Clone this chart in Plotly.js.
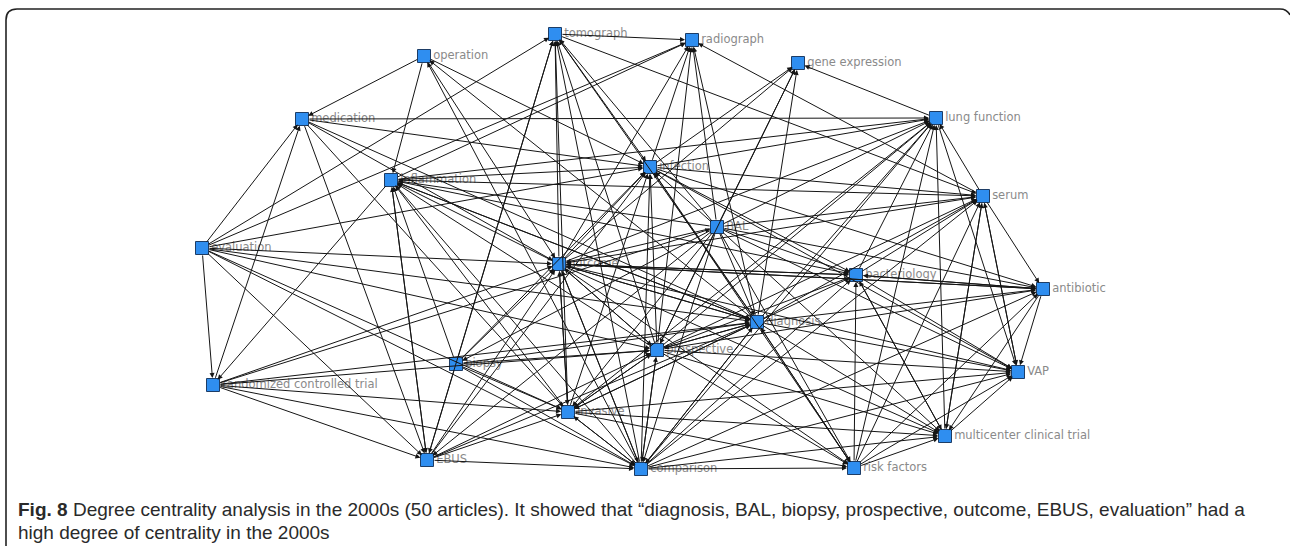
<!DOCTYPE html>
<html>
<head>
<meta charset="utf-8">
<script src="https://cdn.plot.ly/plotly-3.0.1.min.js"></script>
<style>html,body{margin:0;padding:0;background:#fff;}#chart{width:1290px;height:546px;}</style>
</head>
<body>
<div id="chart"></div>
<script>
// Node names and their layout positions (network layout coordinates)
const nodeNames = ["tomograph","radiograph","operation","gene expression","medication","lung function","infection","inflammation","serum","BAL","evaluation","outcome","bacteriology","antibiotic","diagnosis","prospective","biopsy","VAP","randomized controlled trial","invasive","multicenter clinical trial","EBUS","comparison","risk factors"];
const nodeX = [555,692,424,798,302,936,650,391,983,717,202,559,856,1043,757,657,456,1018,213,568,945,427,641,854];
const nodeY = [34,40,56,63,119,118,167,180,196,227,248,264,275,289,322,350,364,372,385,412,436,460,469,468];

// Directed ties: source -> target
const edgeFrom = [
"tomograph","tomograph","tomograph",
"evaluation","evaluation","evaluation","evaluation","evaluation","evaluation","evaluation","evaluation","evaluation","evaluation","evaluation",
"medication","medication","medication","medication","randomized controlled trial","medication",
"operation","operation","operation","operation","diagnosis","comparison",
"EBUS","biopsy","outcome","invasive","comparison","prospective","diagnosis","BAL",
"inflammation","outcome","infection","BAL","diagnosis","prospective","serum",
"lung function","infection","BAL","diagnosis","outcome","prospective",
"inflammation","infection","BAL","outcome","diagnosis","prospective","bacteriology","serum","comparison","risk factors","multicenter clinical trial","invasive",
"inflammation","BAL","outcome","diagnosis","prospective","comparison","risk factors","biopsy","invasive","EBUS",
"infection","infection","infection","infection",
"outcome","biopsy","invasive","comparison","prospective","diagnosis","EBUS","BAL",
"inflammation","inflammation","inflammation","inflammation","inflammation",
"BAL","outcome","diagnosis","prospective","bacteriology","risk factors","multicenter clinical trial","VAP","comparison",
"serum","serum","serum",
"BAL","BAL","BAL","BAL","BAL","BAL","BAL","BAL","BAL","BAL","BAL","BAL",
"biopsy","randomized controlled trial","EBUS","invasive","comparison","prospective","diagnosis","bacteriology","antibiotic",
"outcome","outcome","outcome","outcome","outcome","outcome","outcome","outcome","outcome",
"diagnosis","prospective","risk factors","antibiotic","comparison","multicenter clinical trial",
"bacteriology","bacteriology","bacteriology",
"diagnosis","prospective","comparison","risk factors","antibiotic","antibiotic",
"biopsy","prospective","invasive","comparison","EBUS","randomized controlled trial","risk factors",
"diagnosis","diagnosis","diagnosis","diagnosis","diagnosis","diagnosis",
"biopsy","EBUS","invasive","comparison","randomized controlled trial",
"prospective","prospective","prospective","prospective","prospective",
"comparison","risk factors","multicenter clinical trial","lung function","invasive",
"biopsy","biopsy","biopsy",
"randomized controlled trial","randomized controlled trial","randomized controlled trial","randomized controlled trial",
"EBUS","comparison","invasive","EBUS",
"comparison","comparison","invasive","invasive","risk factors","medication"
];
const edgeTo = [
"radiograph","infection","serum",
"medication","tomograph","radiograph","outcome","diagnosis","randomized controlled trial","prospective","invasive","EBUS","comparison","infection",
"infection","lung function","diagnosis","invasive","medication","outcome",
"medication","inflammation","outcome","infection","operation","operation",
"tomograph","tomograph","tomograph","tomograph","tomograph","tomograph","tomograph","tomograph",
"radiograph","radiograph","radiograph","radiograph","radiograph","radiograph","radiograph",
"gene expression","gene expression","gene expression","gene expression","gene expression","gene expression",
"lung function","lung function","lung function","lung function","lung function","lung function","lung function","lung function","lung function","lung function","lung function","lung function",
"infection","infection","infection","infection","infection","infection","infection","infection","infection","infection",
"serum","bacteriology","VAP","antibiotic",
"inflammation","inflammation","inflammation","inflammation","inflammation","inflammation","inflammation","inflammation",
"randomized controlled trial","EBUS","serum","diagnosis","bacteriology",
"serum","serum","serum","serum","serum","serum","serum","serum","serum",
"antibiotic","VAP","multicenter clinical trial",
"outcome","bacteriology","antibiotic","diagnosis","prospective","VAP","invasive","multicenter clinical trial","risk factors","comparison","biopsy","EBUS",
"outcome","outcome","outcome","outcome","outcome","outcome","outcome","outcome","outcome",
"diagnosis","bacteriology","antibiotic","VAP","invasive","prospective","risk factors","comparison","multicenter clinical trial",
"bacteriology","bacteriology","bacteriology","bacteriology","bacteriology","bacteriology",
"antibiotic","VAP","multicenter clinical trial",
"antibiotic","antibiotic","antibiotic","antibiotic","VAP","multicenter clinical trial",
"diagnosis","diagnosis","diagnosis","diagnosis","diagnosis","diagnosis","diagnosis",
"VAP","multicenter clinical trial","risk factors","prospective","invasive","comparison",
"prospective","prospective","prospective","prospective","prospective",
"VAP","multicenter clinical trial","risk factors","invasive","comparison",
"VAP","VAP","VAP","VAP","VAP",
"EBUS","invasive","comparison",
"EBUS","invasive","comparison","BAL",
"invasive","invasive","comparison","comparison",
"risk factors","multicenter clinical trial","multicenter clinical trial","risk factors","multicenter clinical trial","EBUS"
];

const captionLine1 = "<b>Fig. 8</b> Degree centrality analysis in the 2000s (50 articles). It showed that \u201cdiagnosis, BAL, biopsy, prospective, outcome, EBUS, evaluation\u201d had a";
const captionLine2 = "high degree of centrality in the 2000s";

const idx = {};
nodeNames.forEach((n, i) => idx[n] = i);

const annotations = [];
for (let k = 0; k < edgeFrom.length; k++) {
  const s = idx[edgeFrom[k]], t = idx[edgeTo[k]];
  annotations.push({
    x: nodeX[t], y: nodeY[t], ax: nodeX[s], ay: nodeY[s],
    xref: 'x', yref: 'y', axref: 'x', ayref: 'y',
    text: '', showarrow: true, arrowhead: 2, arrowsize: 1, arrowwidth: 1,
    arrowcolor: '#151515', standoff: 7, startstandoff: 6
  });
}
const capFont = {family: '"Liberation Sans", Arial, sans-serif', size: 19, color: '#2a2a2a'};
annotations.push({
  x: 16, y: 509, xref: 'x', yref: 'y', xanchor: 'left', yanchor: 'middle',
  text: captionLine1, showarrow: false, font: capFont
});
annotations.push({
  x: 16, y: 532, xref: 'x', yref: 'y', xanchor: 'left', yanchor: 'middle',
  text: captionLine2, showarrow: false, font: capFont
});

const nodes = {
  type: 'scatter', mode: 'markers+text',
  x: nodeX, y: nodeY, text: nodeNames, textposition: 'middle right',
  textfont: {family: '"DejaVu Sans", Verdana, sans-serif', size: 11.5, color: '#8a8a8a'},
  marker: {symbol: 'square', size: 13, color: '#2f8ef0', line: {color: '#1d3d66', width: 1}},
  hoverinfo: 'text', cliponaxis: false
};

const layout = {
  width: 1290, height: 546,
  margin: {l: 0, r: 0, t: 0, b: 0},
  paper_bgcolor: '#ffffff', plot_bgcolor: '#ffffff',
  showlegend: false,
  xaxis: {range: [0, 1290], visible: false, fixedrange: true},
  yaxis: {range: [546, 0], visible: false, fixedrange: true},
  annotations: annotations,
  shapes: [{
    type: 'path', xref: 'x', yref: 'y',
    path: 'M 6 546 L 6 20 Q 6 9 17 9 L 1280 9 Q 1287 9 1290 15',
    line: {color: '#222222', width: 1.6}
  }]
};

Plotly.newPlot('chart', [nodes], layout, {displayModeBar: false, staticPlot: true});
</script>
</body>
</html>
